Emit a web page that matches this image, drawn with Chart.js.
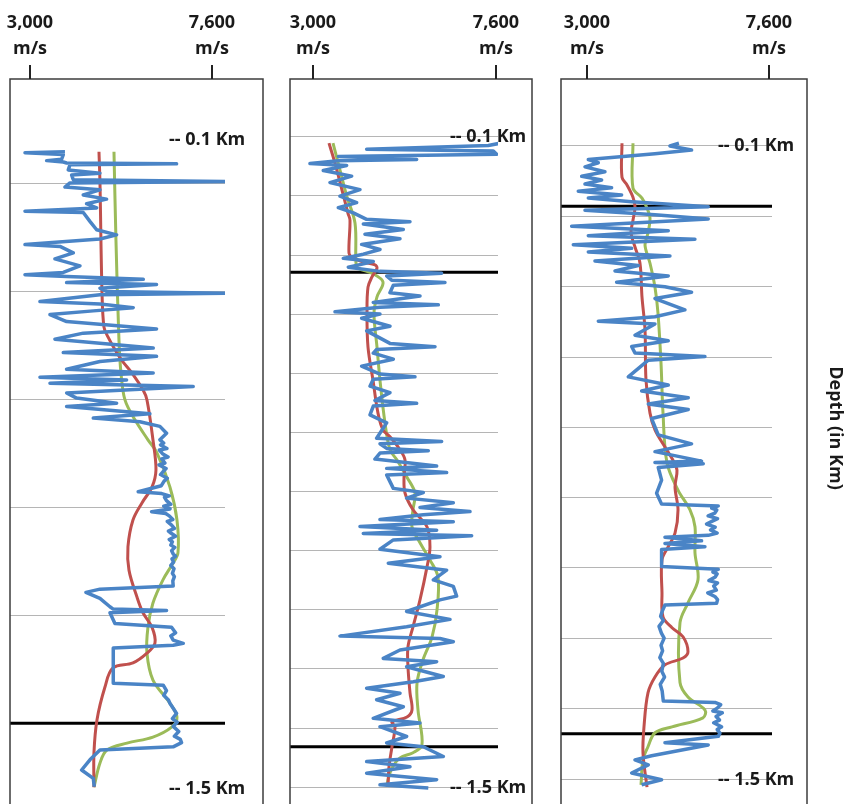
<!DOCTYPE html>
<html><head><meta charset="utf-8">
<script src="https://cdn.jsdelivr.net/npm/chart.js@4.4.1/dist/chart.umd.min.js"></script>
<style>
html,body{margin:0;padding:0;background:#fff;}
#wrap{position:relative;width:851px;height:804px;overflow:hidden;background:#fff;}
canvas{position:absolute;left:0;top:0;}
</style></head><body>
<div id="wrap">
<canvas id="c1" width="851" height="804"></canvas>
<canvas id="c2" width="851" height="804"></canvas>
<canvas id="c3" width="851" height="804"></canvas>
</div>
<script>
// ---- tick labels & annotations ----
const velTicks = [3000, 7600];
const velTickLabels = [['3,000', 'm/s'], ['7,600', 'm/s']];
const depthMarks = [100, 1500];               // metres
const depthMarkLabels = ['-- 0.1 Km', '-- 1.5 Km'];
const depthTitle = 'Depth (in Km)';

// ---- well 1 (depth m, velocity m/s) ----
const w1Grid = [195, 428, 661, 894, 1127];
const w1Horizons = [1360];
const w1BlueDepth = [128,130,134,144,147,150,152,154,156,167,174,178,188,192,195,204,210,221,230,240,249,256,259,278,296,307,316,328,332,346,359,374,388,393,397,403,410,414,422,429,433,436,451,456,464,471,479,494,510,519,532,551,561,569,580,597,605,614,620,627,634,648,659,670,677,693,702,710,720,735,749,
  756,760,768,771,779,786,790,799,803,811,818,824,832,838,848,861,865,870,873,880,888,892,898,904,908,913,921,925,933,940,946,950,957,964,969,976,981,988,995,1000,1006,1013,1020,1027,1037,1044,1053,1064,
  1071,1078,1091,1109,1114,1117,1122,1145,1153,1165,1172,1181,1188,1192,1198,1274,1278,1290,1300,1310,1317,1328,1339,1350,1358,1367,1378,1388,1395,1402,1411,1418,1439,1461,1479,1497];
const w1BlueVel = [3884,2874,3842,3800,3421,3842,3926,6705,4010,3968,4768,4052,4094,7926,4010,3884,4768,4347,4936,4431,4684,2874,4347,4515,4684,5189,4768,2874,3758,4094,3631,4263,3842,2874,3926,5863,3926,6199,4768,4936,7926,4768,3252,4768,5610,4600,3505,3926,6199,4347,3631,6115,3842,6199,4768,3926,6115,3252,5442,3505,7126,3926,4179,5189,3926,6031,4600,5778,6284,6452,6284,
  6380,6300,6460,6270,6350,6490,6330,6410,6260,6440,6360,6300,6470,6390,6320,5736,6330,6520,6400,6450,6560,6380,6540,6074,6430,6520,6610,6470,6580,6650,6500,6560,6680,6520,6600,6560,6660,6580,6620,6680,6590,6630,6560,6640,6600,6650,6610,6620,
  4768,4414,4768,5021,5105,6452,5021,5147,6578,6680,6560,6620,6873,6620,5105,5105,6368,6450,6380,6500,6536,6620,6705,6600,6720,6620,6760,6650,6800,6831,6620,4768,4515,4305,4600,4625];
const w1RedDepth = [128,195,426,506,527,562,581,605,641,663,749,814,851,885,922,980,1030,1088,1122,1153,1187,1209,1230,1241,1282,1353,1424,1498];
const w1RedVel = [4744,4769,4819,4870,4971,5198,5350,5578,5856,5957,6108,6184,6083,5830,5603,5476,5502,5704,5856,6083,6159,5957,5603,5097,4895,4693,4617,4617];
const w1GreenDepth = [128,318,534,605,663,706,749,777,851,922,993,1015,1051,1101,1153,1209,1267,1317,1347,1368,1390,1403,1418,1446,1498];
const w1GreenVel = [5123,5173,5249,5300,5401,5653,5982,6209,6538,6715,6740,6614,6361,6108,5982,5957,6108,6538,6715,6588,6108,5451,4946,4769,4617];

// ---- well 2 ----
const w2Grid = [100,227,355,482,609,736,864,991,1118,1245,1373,1500];
const w2Horizons = [393, 1414];
const w2BlueDepth = [116,120,128,132,139,144,150,153,159,163,174,186,200,215,229,243,254,265,279,284,289,301,311,321,333,344,354,363,370,382,391,395,401,410,415,421,437,444,458,463,468,478,483,492,509,519,546,553,559,567,580,595,612,618,623,638,652,669,675,681,700,717,750,757,762,772,777,782,795,810,815,824,829,858,867,879,889,899,908,915,925,930,940,948,955,960,969,989,1005,1019,1034,1055,1069,1090,1098,1123,1140,1156,1176,1181,1188,1206,1224,1231,1242,1263,1274,1288,1299,1313,1328,1353,1363,1371,1392,1406,1414,1435,1446,1457,1471,1485,1496,1503];
const w2BlueVel = [7659,7408,4349,7533,7617,3637,5606,3637,2924,3846,3259,3972,3427,4181,3678,4097,3637,4014,4349,5438,4265,5271,4307,5187,4223,4684,4265,3762,4516,3888,4684,6234,4852,4977,6318,5019,4935,5690,4516,6151,4684,3553,4684,4223,4935,4349,4935,6067,4600,4516,5019,4223,4684,5564,4516,4433,4935,4558,5606,4516,4433,4852,4600,6234,4684,4852,5899,4684,4558,6109,4852,6360,4852,5019,5773,5354,6528,5690,6947,5773,4684,6528,4181,6109,4265,6989,5019,4684,6192,4894,6360,6025,6528,6611,6192,5354,6444,5354,3678,6192,6528,5187,4768,6109,5354,6276,5522,4349,5187,4600,5271,4516,5690,4684,5354,4852,5773,6276,4349,5438,4349,6109,4684,5899];
const w2RedDepth = [115,158,216,266,281,352,360,371,377,384,403,425,481,554,625,696,732,747,775,797,834,868,904,941,984,1027,1098,1156,1199,1242,1298,1335,1350,1361,1371,1414,1457,1500];
const w2RedVel = [3402,3553,3729,3880,3930,3905,3980,4257,4559,4609,4483,4383,4358,4383,4508,4634,4760,4936,5187,5313,5288,5313,5514,5866,5941,5866,5690,5514,5388,5388,5439,5489,5363,4986,5061,4986,4911,4886];
const w2GreenDepth = [115,173,231,287,373,384,395,414,446,481,554,625,717,775,797,834,868,904,941,975,1012,1049,1120,1178,1227,1277,1335,1410,1427,1438,1460,1485,1500];
const w2GreenVel = [3503,3679,3855,4056,4081,4131,4483,4760,4609,4534,4609,4684,4810,4936,5112,5363,5564,5514,5489,5690,5941,6143,6117,5992,5765,5615,5640,5740,5514,5187,4986,4886,4860];

// ---- well 3 ----
const w3Grid = [100,256,411,567,722,878,1033,1189,1344,1500];
const w3Horizons = [235, 1400];
const w3BlueDepth = [96,102,111,119,132,139,148,159,169,177,186,194,202,210,217,225,236,244,254,263,279,289,300,308,320,328,336,345,356,366,378,389,403,413,425,439,464,479,489,495,520,532,545,559,567,575,612,630,643,658,672,684,704,740,760,777,798,801,804,812,840,869,893,
  897,902,906,913,919,925,930,937,944,950,957,962,
  966,974,980,987,993,1031,
  1037,1043,1047,1054,1062,1067,1074,1083,1089,1097,1104,1112,1116,
  1130,1141,1150,1163,1178,1189,1205,1217,1232,1245,1262,1275,1291,1306,1328,
  1331,1336,1343,1350,1354,1362,1370,1376,1385,1391,1399,1406,
  1420,1425,1449,1458,1469,1487,1502,1513];
const w3BlueVel = [5323,5096,5643,4717,3033,3286,2949,3454,2865,3370,2949,3622,2780,3875,3033,4128,6064,2949,4717,6064,2612,5054,3033,5727,2654,4128,3033,5096,3201,4296,3707,5054,3749,4970,5643,4717,5475,4717,3286,4717,4212,5054,4128,4212,5980,4549,4043,5054,4380,5559,4549,5559,4633,4801,5643,4717,5896,4717,5938,4801,4885,4759,4885,
  6317,6150,6280,6230,6060,6300,6180,6020,6240,6120,6290,6064,
  4970,5896,4970,5980,4885,4885,
  6317,6180,6290,6240,6080,6300,6200,6270,6050,6230,6300,6275,4970,
  4900,4860,4930,4820,4880,4950,4870,4910,4840,4930,4890,4960,4850,4900,4928,
  6233,6380,6300,6180,6420,6260,6350,6200,6401,6290,6360,6317,
  4970,6064,4633,4212,4549,4128,4885,4380];
const w3RedDepth = [96,171,188,215,237,266,294,325,361,436,508,619,692,729,767,796,818,855,906,957,988,1016,1089,1142,1166,1186,1219,1233,1248,1275,1310,1385,1443,1518];
const w3RedVel = [3884,3884,4011,4162,4213,4162,4112,4213,4339,4390,4466,4491,4592,4718,4971,5173,5274,5224,5300,5224,5047,4895,4895,4921,5148,5426,5552,5426,4971,4718,4541,4440,4415,4516];
const w3GreenDepth = [96,195,217,239,261,294,321,361,414,471,581,692,802,862,906,943,1001,1060,1111,1155,1287,1319,1348,1365,1385,1398,1429,1458,1513];
const w3GreenVel = [4162,4162,4390,4516,4592,4541,4466,4592,4718,4794,4870,4921,5022,5300,5603,5729,5729,5805,5552,5350,5350,5552,5982,5931,5148,4718,4541,4415,4365];

// ---- styling ----
const BLUE = '#4a84c6', RED = '#c0504d', GREEN = '#9bbb59';
const FONT = 'bold 18px "Open Sans", "DejaVu Sans", sans-serif';
const TEXT = '#1a1a1a';

function pts(d, v) { return d.map((y, i) => ({ x: v[i], y: y })); }

const decor = {
  id: 'decor',
  beforeDatasetsDraw(chart, args, o) {
    const { ctx, chartArea: ca, scales: { y } } = chart;
    ctx.save();
    ctx.strokeStyle = '#b5b5b5'; ctx.lineWidth = 1;
    o.grid.forEach(v => {
      const py = Math.round(y.getPixelForValue(v)) + 0.5;
      ctx.beginPath(); ctx.moveTo(ca.left, py); ctx.lineTo(ca.right, py); ctx.stroke();
    });
    ctx.strokeStyle = '#000'; ctx.lineWidth = 3;
    o.horizons.forEach(v => {
      const py = y.getPixelForValue(v);
      ctx.beginPath(); ctx.moveTo(ca.left, py); ctx.lineTo(ca.right, py); ctx.stroke();
    });
    ctx.restore();
  },
  afterDraw(chart, args, o) {
    const { ctx, chartArea: ca, scales: { x, y } } = chart;
    ctx.save();
    ctx.strokeStyle = '#3c3c3c'; ctx.lineWidth = 1.5;
    ctx.strokeRect(ca.left, ca.top, o.boxRight - ca.left, ca.bottom - ca.top + 4);
    ctx.strokeStyle = '#222'; ctx.lineWidth = 2;
    ctx.fillStyle = TEXT; ctx.font = FONT;
    ctx.textAlign = 'center'; ctx.textBaseline = 'middle';
    velTicks.forEach((v, i) => {
      const px = Math.round(x.getPixelForValue(v));
      ctx.beginPath(); ctx.moveTo(px, ca.top - 14); ctx.lineTo(px, ca.top); ctx.stroke();
      ctx.fillText(velTickLabels[i][0], px, ca.top - 56);
      ctx.fillText(velTickLabels[i][1], px, ca.top - 30);
    });
    ctx.textAlign = 'left';
    depthMarks.forEach((d, i) => {
      ctx.fillText(depthMarkLabels[i], o.labelX, y.getPixelForValue(d) + 1);
    });
    if (o.title) {
      ctx.save();
      ctx.translate(o.title[0], o.title[1]);
      ctx.rotate(Math.PI / 2);
      ctx.textAlign = 'center';
      ctx.fillText(depthTitle, 0, 0);
      ctx.restore();
    }
    ctx.restore();
  }
};

const panels = [
  { id: 'c1', plot: [10, 225], boxRight: 263, xr: [2495, 7929], yr: [-29, 1530], labelX: 169,
    grid: w1Grid, horizons: w1Horizons,
    blue: pts(w1BlueDepth, w1BlueVel), red: pts(w1RedDepth, w1RedVel), green: pts(w1GreenDepth, w1GreenVel) },
  { id: 'c2', plot: [290, 498], boxRight: 532, xr: [2422, 7651], yr: [-23, 1533], labelX: 450,
    grid: w2Grid, horizons: w2Horizons,
    blue: pts(w2BlueDepth, w2BlueVel), red: pts(w2RedDepth, w2RedVel), green: pts(w2GreenDepth, w2GreenVel) },
  { id: 'c3', plot: [561, 772], boxRight: 807, xr: [2343, 7675], yr: [-46, 1551], labelX: 718,
    grid: w3Grid, horizons: w3Horizons, title: [835, 428],
    blue: pts(w3BlueDepth, w3BlueVel), red: pts(w3RedDepth, w3RedVel), green: pts(w3GreenDepth, w3GreenVel) }
];

panels.forEach(p => {
  new Chart(document.getElementById(p.id), {
    type: 'scatter',
    data: {
      datasets: [
        { data: p.blue, showLine: true, borderColor: BLUE, borderWidth: 3.5, pointRadius: 0, tension: 0, borderJoinStyle: 'round' },
        { data: p.red, showLine: true, borderColor: RED, borderWidth: 3, pointRadius: 0, tension: 0.35 },
        { data: p.green, showLine: true, borderColor: GREEN, borderWidth: 3, pointRadius: 0, tension: 0.35 }
      ]
    },
    options: {
      responsive: false, maintainAspectRatio: false, animation: false, events: [],
      layout: { padding: { left: p.plot[0], right: 851 - p.plot[1], top: 79, bottom: 2 } },
      plugins: { legend: { display: false }, tooltip: { enabled: false }, decor: p },
      scales: {
        x: { type: 'linear', display: false, min: p.xr[0], max: p.xr[1] },
        y: { type: 'linear', display: false, reverse: true, min: p.yr[0], max: p.yr[1] }
      }
    },
    plugins: [decor]
  });
});
</script>
</body></html>
